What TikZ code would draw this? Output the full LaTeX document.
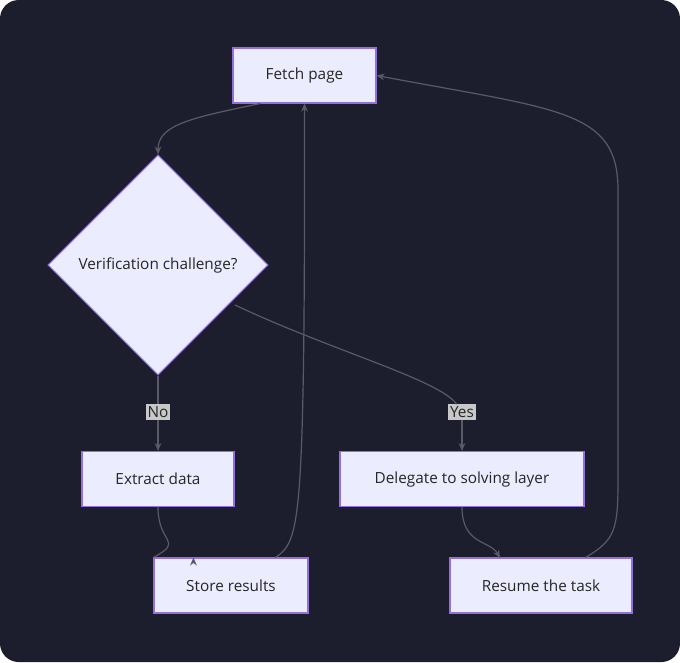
\documentclass[tikz,border=0pt]{standalone}
\usepackage{fontspec}
\setmainfont{Open Sans}
\usetikzlibrary{shapes.geometric,arrows.meta}
\definecolor{bg}{HTML}{1C1E2E}
\definecolor{nodefill}{HTML}{ECECFF}
\definecolor{nodeline}{HTML}{9370DB}
\definecolor{edge}{HTML}{5A5A66}
\definecolor{lbl}{HTML}{C8C8C8}
\begin{document}
\begin{tikzpicture}[x=0.75pt,y=-0.75pt,
  box/.style={draw=nodeline,fill=nodefill,line width=0.8pt,minimum height=55*0.75pt,font=\fontsize{11.5}{13}\selectfont,text=black!85},
  dia/.style={draw=nodeline,fill=nodefill,line width=0.8pt,diamond,minimum width=220*0.75pt,minimum height=220*0.75pt,inner sep=0pt,font=\fontsize{11.5}{13}\selectfont,text=black!85},
  con/.style={draw=edge,line width=0.9pt,-{Stealth[length=6pt,width=5pt]}},
  lab/.style={fill=lbl,inner sep=1.5pt,font=\fontsize{11.5}{13}\selectfont,text=black!85}]
\useasboundingbox (0,0) rectangle (680,662);
\fill[bg,rounded corners=14pt] (0,0) rectangle (680,662);
\node[box,minimum width=143*0.75pt] (fetch) at (304.5,75.5) {Fetch page};
\node[dia] (ver) at (158,265) {Verification challenge?};
\node[box,minimum width=152*0.75pt] (extract) at (158,479) {Extract data};
\node[box,minimum width=244*0.75pt] (deleg) at (462,479) {Delegate to solving layer};
\node[box,minimum width=154*0.75pt] (store) at (231,585.5) {Store results};
\node[box,minimum width=182*0.75pt] (resume) at (541,585.5) {Resume the task};
\node[lab] (no) at (158,412) {No};
\node[lab] (yes) at (462,412) {Yes};
\draw[con] (fetch.south west) ++(28,0) .. controls (190,118) and (158,125) .. (ver.north);
\draw[draw=edge,line width=0.9pt] (ver.south) -- (no);
\draw[con] (no) -- (extract.north);
\draw[draw=edge,line width=0.9pt] (235,305) .. controls (330,350) and (440,380) .. (yes);
\draw[con] (yes) -- (deleg.north);
\draw[con] (extract.south) .. controls (158,545) and (185,540) .. (store.north west) ++(40,0);
\draw[con] (deleg.south) .. controls (462,545) and (490,540) .. (500,558);
\draw[con] (store.north east) ++(-33,0) .. controls (300,540) and (305,530) .. (fetch.south);
\draw[con] (resume.north east) ++(-47,0) .. controls (615,540) and (618,530) .. (618,480) -- (618,190) .. controls (618,110) and (560,110) .. (fetch.east);
\end{tikzpicture}
\end{document}
